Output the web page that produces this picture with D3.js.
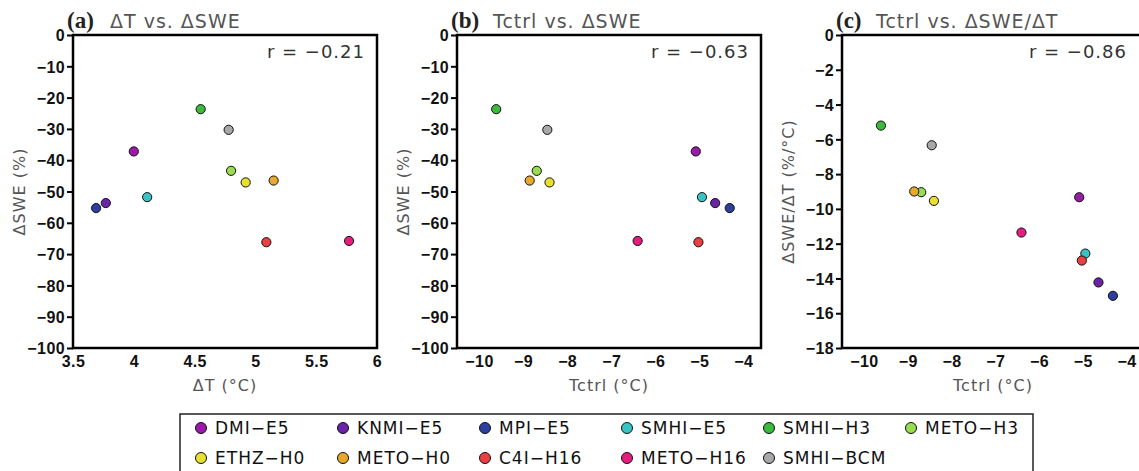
<!DOCTYPE html>
<html lang="en">
<head>
  <meta charset="UTF-8">
  <title>Snow sensitivity scatter panels</title>
  <script src="https://cdn.jsdelivr.net/npm/d3@7.9.0/dist/d3.min.js"></script>
  <style>
    html, body { margin: 0; padding: 0; background: #fff; }
    svg { display: block; }
    .tick text { font-family: "Liberation Sans", Arial, sans-serif; font-weight: bold; font-size: 16px; letter-spacing: 0.4px; fill: #111; }
    .gray { font-family: "DejaVu Sans", sans-serif; fill: #555; letter-spacing: 1px; }
  </style>
</head>
<body>
  <svg id="chart" width="1139" height="471"></svg>
  <script>
    // --- data ---
    const models = ["DMI-E5", "KNMI-E5", "MPI-E5", "SMHI-E5", "SMHI-H3", "METO-H3",
                    "ETHZ-H0", "METO-H0", "C4I-H16", "METO-H16", "SMHI-BCM"];
    const colors = ["#9a1aaa", "#6a22a8", "#2c3e9e", "#38c4c4", "#3cba3c", "#98dc50",
                    "#e8e030", "#e8a82c", "#ea4040", "#e41e7e", "#a8a8a8"];
    const dT    = [4.00, 3.77, 3.69, 4.11, 4.55, 4.80, 4.92, 5.15, 5.09, 5.77, 4.78];
    const dSWE  = [-37.2, -53.7, -55.3, -51.8, -23.7, -43.4, -47.1, -46.5, -66.2, -65.8, -30.3];
    const tctrl = [-5.08, -4.64, -4.31, -4.94, -9.61, -8.69, -8.40, -8.85, -5.02, -6.40, -8.45];
    const sens  = [-9.33, -14.23, -15.0, -12.57, -5.21, -9.04, -9.54, -9.0, -12.97, -11.36, -6.34];

    const xTicksA = [3.5, 4, 4.5, 5, 5.5, 6];
    const xTicksT = [-10, -9, -8, -7, -6, -5, -4];
    const yTicksSWE = d3.range(0, -101, -10);
    const yTicksSens = d3.range(0, -19, -2);

    const panels = [
      { tag: "(a)", title: "\u0394T  vs.  \u0394SWE", r: "r  =  \u22120.21",
        x: dT, y: dSWE, xDom: [3.5, 6], yDom: [-100, 0], xTicks: xTicksA, yTicks: yTicksSWE,
        xLab: "\u0394T  (\u00b0C)", yLab: "\u0394SWE  (%)", left: 73, right: 377, titleX: 110 },
      { tag: "(b)", title: "Tctrl  vs.  \u0394SWE", r: "r  =  \u22120.63",
        x: tctrl, y: dSWE, xDom: [-10.5, -3.6], yDom: [-100, 0], xTicks: xTicksT, yTicks: yTicksSWE,
        xLab: "Tctrl  (\u00b0C)", yLab: "\u0394SWE  (%)", left: 457, right: 761, titleX: 493 },
      { tag: "(c)", title: "Tctrl  vs.  \u0394SWE/\u0394T", r: "r  =  \u22120.86",
        x: tctrl, y: sens, xDom: [-10.5, -3.6], yDom: [-18, 0], xTicks: xTicksT, yTicks: yTicksSens,
        xLab: "Tctrl  (\u00b0C)", yLab: "\u0394SWE/\u0394T  (%/\u00b0C)", left: 842, right: 1144, titleX: 876 }
    ];

    const plotTop = 35, plotBottom = 348;
    const svg = d3.select("#chart");
    const fmt = d3.format("~g");

    panels.forEach(p => {
      const x = d3.scaleLinear().domain(p.xDom).range([p.left, p.right]);
      const y = d3.scaleLinear().domain(p.yDom).range([plotBottom, plotTop]);
      const g = svg.append("g");

      // frame
      g.append("rect")
        .attr("x", p.left).attr("y", plotTop)
        .attr("width", p.right - p.left).attr("height", plotBottom - plotTop)
        .attr("fill", "none").attr("stroke", "#000").attr("stroke-width", 2.5);

      const yAxis = g.append("g")
        .attr("transform", `translate(${p.left},0)`)
        .call(d3.axisLeft(y).tickValues(p.yTicks).tickFormat(fmt).tickSize(6).tickPadding(2));
      yAxis.select(".domain").remove();
      yAxis.selectAll(".tick line").attr("stroke-width", 2);
      yAxis.selectAll(".tick text").attr("dy", "0.36em");

      const xAxis = g.append("g")
        .attr("transform", `translate(0,${plotBottom})`)
        .call(d3.axisBottom(x).tickValues(p.xTicks).tickFormat(fmt).tickSize(0).tickPadding(8));
      xAxis.select(".domain").remove();

      // points
      g.selectAll("circle.pt")
        .data(models.map((m, i) => i))
        .join("circle")
        .attr("class", "pt")
        .attr("cx", i => x(p.x[i]))
        .attr("cy", i => y(p.y[i]))
        .attr("r", 4.6)
        .attr("fill", i => colors[i])
        .attr("stroke", "#111")
        .attr("stroke-width", 1);

      // titles
      g.append("text")
        .attr("x", p.left - 6).attr("y", 28)
        .attr("font-family", "Liberation Serif, serif").attr("font-weight", "bold")
        .attr("font-size", 23).attr("fill", "#222")
        .text(p.tag);
      g.append("text").attr("class", "gray")
        .attr("x", p.titleX).attr("y", 28)
        .attr("font-size", 19)
        .text(p.title);
      g.append("text").attr("class", "gray")
        .attr("x", Math.min(p.right, 1139) - 12).attr("y", 58)
        .attr("text-anchor", "end").attr("font-size", 18).style("fill", "#333")
        .text(p.r);

      g.append("text").attr("class", "gray")
        .attr("x", (p.left + p.right) / 2).attr("y", 391)
        .attr("text-anchor", "middle").attr("font-size", 16)
        .text(p.xLab);
      g.append("text").attr("class", "gray")
        .attr("transform", `translate(${p.left - 48},${(plotTop + plotBottom) / 2}) rotate(-90)`)
        .attr("text-anchor", "middle").attr("font-size", 16)
        .text(p.yLab);
    });

    // legend
    const legLeft = 180, legTop = 414, colW = 142;
    svg.append("rect")
      .attr("x", legLeft).attr("y", legTop)
      .attr("width", 1033 - legLeft).attr("height", 80)
      .attr("fill", "none").attr("stroke", "#222").attr("stroke-width", 1.5);

    const leg = svg.append("g").selectAll("g")
      .data(models.map((m, i) => i))
      .join("g")
      .attr("transform", i => `translate(${legLeft + 21 + (i % 6) * colW},${legTop + 14 + Math.floor(i / 6) * 30})`);
    leg.append("circle")
      .attr("r", 5.5)
      .attr("fill", i => colors[i])
      .attr("stroke", "#111").attr("stroke-width", 1);
    leg.append("text")
      .attr("x", 14).attr("dy", "0.36em")
      .attr("font-family", "DejaVu Sans, sans-serif").attr("font-size", 17)
      .attr("letter-spacing", 1)
      .attr("fill", "#111")
      .text(i => models[i].replace("-", "\u2212"));
  </script>
</body>
</html>
